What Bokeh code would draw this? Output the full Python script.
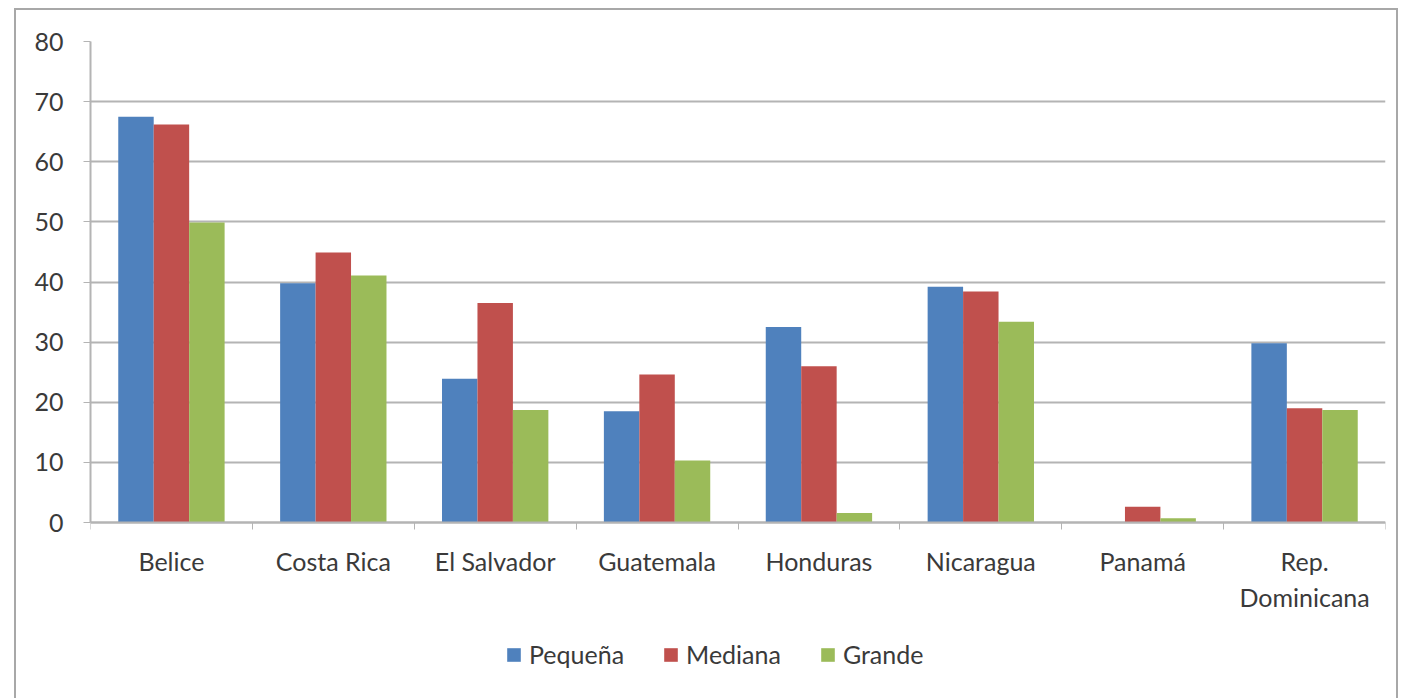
import numpy as np
from bokeh.plotting import figure
from bokeh.models import (ColumnDataSource, FixedTicker, Legend, LegendItem, Range1d)
from bokeh.embed import file_html
from bokeh.resources import INLINE

categories = ["Belice", "Costa Rica", "El Salvador", "Guatemala", "Honduras",
              "Nicaragua", "Panamá", "Rep.\nDominicana"]
series_names = ["Pequeña", "Mediana", "Grande"]
pequena = [67.5, 39.8, 23.9, 18.5, 32.5, 39.2, 0.0, 29.8]
mediana = [66.2, 44.9, 36.5, 24.6, 26.0, 38.4, 2.6, 19.0]
grande = [49.9, 41.1, 18.7, 10.3, 1.6, 33.4, 0.7, 18.7]
y_ticks = [0, 10, 20, 30, 40, 50, 60, 70, 80]

colors = ["#4F81BD", "#C0504D", "#9BBB59"]
FONT = "Lato"
FS = "25px"
TEXT = "#3a3a3a"
GRID = "#b4b4b4"

n = len(categories)
centers = np.arange(n) + 0.5
bar_w = 0.219
offsets = [-bar_w, 0.0, bar_w]

# value axis spans 481 px for 0..80; the frame is extended below 0 to hold labels and legend
axis_px = 481
frame_h = 672
y_top = 80
y_start = -y_top * (frame_h - axis_px) / axis_px

p = figure(frame_width=1295, frame_height=frame_h, output_backend="svg", toolbar_location=None,
           x_range=Range1d(0, n), y_range=Range1d(y_start, y_top),
           min_border_left=74, min_border_top=31, min_border_right=11,
           min_border_bottom=0)
p.outline_line_color = None
p.background_fill_color = "white"
p.border_fill_color = "white"
p.margin = (8, 0, 0, 14)
p.styles = {"border": "2px solid #a8a8a8"}

items = []
for vals, name, col, off in zip([pequena, mediana, grande], series_names, colors, offsets):
    src = ColumnDataSource(dict(x=centers + off, top=vals))
    r = p.vbar(x="x", top="top", bottom=0, width=bar_w, source=src,
               fill_color=col, line_color=None)
    items.append(LegendItem(label=name, renderers=[r]))

# x axis: labels at category centers, ticks at category boundaries, drawn at y=0
xa = p.xaxis[0]
xa.fixed_location = 0
xa.ticker = FixedTicker(ticks=list(centers), minor_ticks=list(range(n + 1)))
xa.major_label_overrides = {float(c): lab for c, lab in zip(centers, categories)}
xa.major_tick_out = 0
xa.major_tick_in = 0
xa.minor_tick_out = 7
xa.minor_tick_in = 0
xa.minor_tick_line_color = GRID
xa.axis_line_color = GRID
xa.axis_line_width = 2
xa.major_label_text_font = FONT
xa.major_label_text_font_size = FS
xa.major_label_text_color = TEXT
xa.major_label_text_line_height = 1.2
xa.major_label_standoff = 16

ya = p.yaxis[0]
ya.ticker = FixedTicker(ticks=y_ticks)
ya.bounds = (0, y_top)
ya.minor_tick_line_color = None
ya.major_tick_out = 7
ya.major_tick_in = 0
ya.major_tick_line_color = GRID
ya.axis_line_color = GRID
ya.axis_line_width = 2
ya.major_label_text_font = FONT
ya.major_label_text_font_size = FS
ya.major_label_text_color = TEXT
ya.major_label_standoff = 20

p.xgrid.visible = False
p.ygrid.grid_line_color = GRID
p.ygrid.grid_line_width = 2

legend = Legend(items=items, orientation="horizontal", location=(415, 44),
                border_line_color=None, background_fill_alpha=0,
                label_text_font=FONT, label_text_font_size=FS,
                label_text_color=TEXT, glyph_width=17, glyph_height=17,
                label_standoff=7, spacing=38, margin=0, padding=0)
p.add_layout(legend, "center")

open("out.html", "w").write(file_html(p, INLINE))
